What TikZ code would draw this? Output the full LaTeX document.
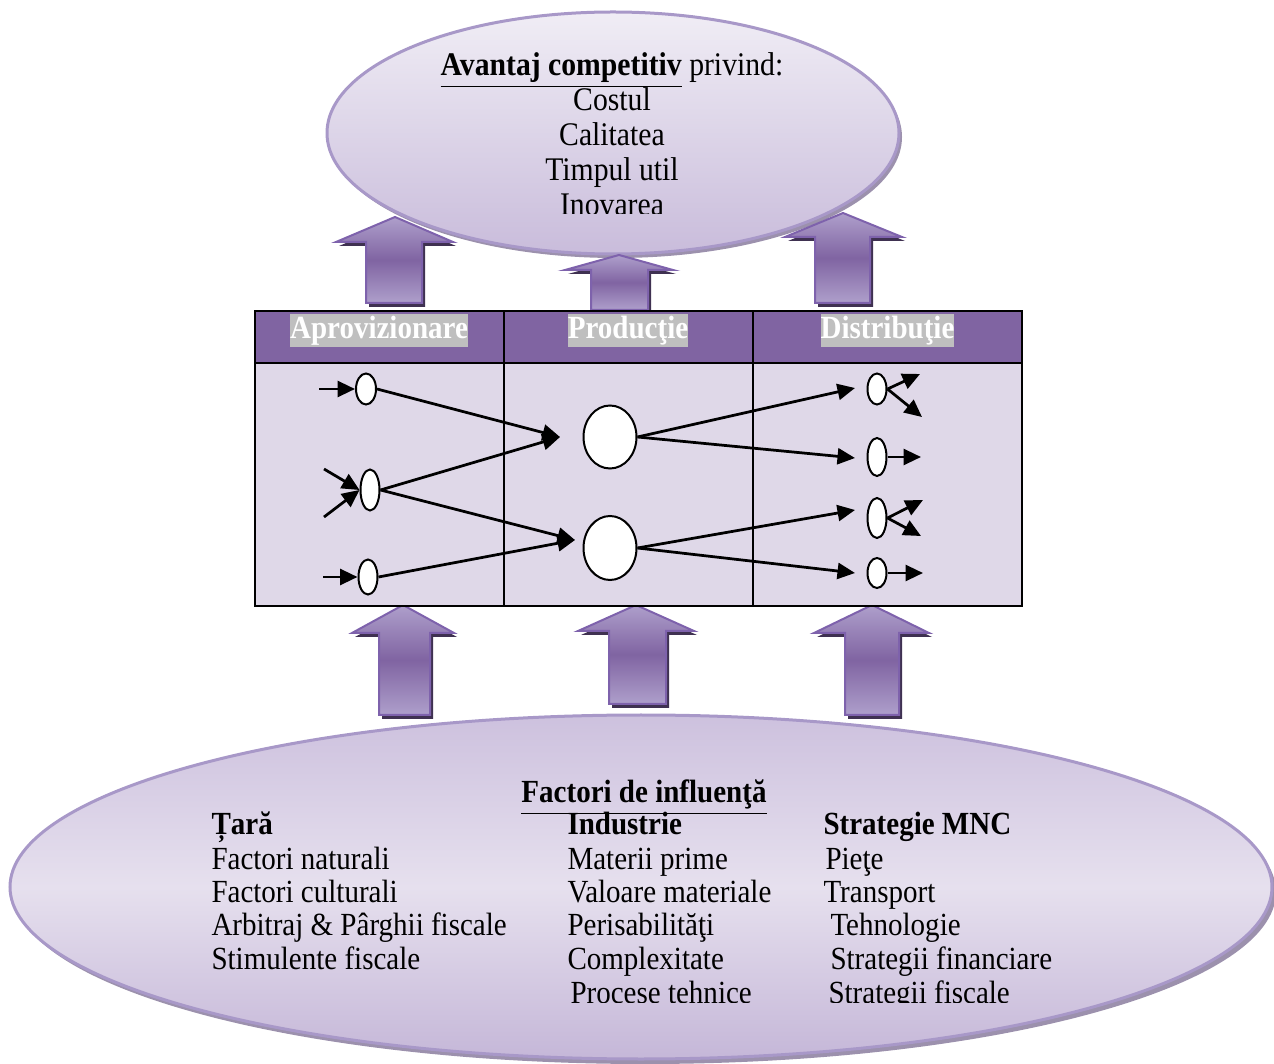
\documentclass[tikz,border=0pt]{standalone}
\usepackage{fontspec}
\setmainfont{Liberation Serif}[FakeStretch=0.9]
\usetikzlibrary{arrows.meta,shapes.geometric}
\definecolor{hdr}{HTML}{8064A2}
\definecolor{tbody}{HTML}{DFD8E8}
\definecolor{hl}{HTML}{BFBFBF}
\definecolor{arrline}{HTML}{7E62AC}
\definecolor{arrdark}{HTML}{8064A2}
\definecolor{arrlight}{HTML}{AE9FCB}
\definecolor{arrshadow}{HTML}{3F3151}
\definecolor{ellborder}{HTML}{A898C8}
\definecolor{elltop}{HTML}{F0EDF5}
\definecolor{ellbot}{HTML}{C9BCDB}
\definecolor{ellshadow}{HTML}{9C91AD}
\definecolor{bigtop}{HTML}{CDC1DE}
\definecolor{bigmid}{HTML}{E6E0EE}
\definecolor{bigbot}{HTML}{C5B7D8}
\newcommand\fatup[8]{%
  \fill[arrshadow,shift={(3,4)}] (#6,#8) -- (#6,#5) -- (#3,#5) -- (#1,#2) -- (#4,#5) -- (#7,#5) -- (#7,#8) -- cycle;
  \shade[top color=arrlight,bottom color=arrlight,middle color=arrdark,draw=arrline,line width=0.8pt]
    (#6,#8) -- (#6,#5) -- (#3,#5) -- (#1,#2) -- (#4,#5) -- (#7,#5) -- (#7,#8) -- cycle;}
\tikzset{
  txt/.style={inner sep=0pt,font=\fontsize{12.9}{13.4}\selectfont},
  toptxt/.style={inner sep=0pt,font=\fontsize{13.2}{14}\selectfont},
  hlbox/.style={fill=hl,text=white,inner xsep=0pt,inner ysep=0pt,minimum height=13.2pt,
    font=\fontsize{12.9}{13.4}\selectfont\bfseries},
  sm/.style={ellipse,draw,fill=white,line width=0.8pt,inner sep=0pt},
  arr/.style={line width=1.1pt,-{Triangle[length=7pt,width=6.4pt]}}
}
\begin{document}
\begin{tikzpicture}[x=0.4pt,y=-0.4pt]
\useasboundingbox (0,0) rectangle (1274,1064);
% top ellipse
\fill[ellshadow] (616,137) ellipse [x radius=286,y radius=121];
\shade[top color=elltop,bottom color=ellbot,draw=ellborder,line width=1.2pt] (613,133) ellipse [x radius=286,y radius=121];
\node[toptxt,anchor=base] (t0) at (612,76) {\textbf{\underline{Avantaj competitiv}} privind:};
\node[toptxt,anchor=base] (t1) at (612,111) {Costul};
\node[toptxt,anchor=base] (t2) at (612,146) {Calitatea};
\node[toptxt,anchor=base] (t3) at (612,181) {Timpul util};
\begin{scope}
\clip (0,0) rectangle (1274,214);
\node[toptxt,anchor=base] (t4) at (612,216) {Inovarea};
\end{scope}
% top arrows
\fatup{395}{217}{336}{453}{242}{366}{422}{303}
\fatup{619}{255}{565}{673}{270}{591}{648}{310}
\fatup{843}{213}{785}{902}{237}{815}{870}{303}
% bottom ellipse
\fill[ellshadow] (645,892) ellipse [x radius=631,y radius=172];
\shade[top color=bigtop,bottom color=bigbot,middle color=bigmid,draw=ellborder,line width=1.2pt] (641,887) ellipse [x radius=631,y radius=172];
% bottom arrows
\fatup{403}{605}{352}{454}{633}{379}{430}{715}
\fatup{636}{605}{578}{694}{631}{609}{666}{704}
\fatup{872}{605}{814}{929}{633}{845}{899}{715}
% table
\fill[hdr] (255,311) rectangle (1022,363);
\fill[tbody] (255,363) rectangle (1022,606);
\draw[line width=0.8pt] (504,311) -- (504,606) (753,311) -- (753,606);
\draw[line width=1pt] (255,363) -- (1022,363);
\draw[line width=1pt] (255,311) rectangle (1022,606);
\node[hlbox] (h1) at (379,331) {Aprovizionare};
\node[hlbox] (h2) at (628,331) {Producţie};
\node[hlbox] (h3) at (887.5,331) {Distribuţie};
% network nodes
\node[sm,minimum width=8pt,minimum height=12.4pt] (A1) at (366,389) {};
\node[sm,minimum width=7.6pt,minimum height=16.4pt] (A2) at (370,490) {};
\node[sm,minimum width=7.6pt,minimum height=14pt] (A3) at (368,577) {};
\node[sm,minimum width=21.2pt,minimum height=25.2pt] (P1) at (610,437) {};
\node[sm,minimum width=21.2pt,minimum height=25.6pt] (P2) at (610,548) {};
\node[sm,minimum width=7.6pt,minimum height=12.4pt] (D1) at (877,389) {};
\node[sm,minimum width=7.6pt,minimum height=15.2pt] (D2) at (877,457) {};
\node[sm,minimum width=7.6pt,minimum height=16pt] (D3) at (877,518) {};
\node[sm,minimum width=7.6pt,minimum height=12pt] (D4) at (877,573) {};
% free ends
\coordinate (i1) at (319,389);
\coordinate (i2a) at (324,469);
\coordinate (i2b) at (324,517);
\coordinate (i3) at (323,577);
\coordinate (P1in) at (560,437);
\coordinate (P2in) at (575,540);
\coordinate (D1in) at (855,388);
\coordinate (D2in) at (855,458);
\coordinate (D3in) at (855,510);
\coordinate (D4in) at (855,573);
\coordinate (o1a) at (920,374);
\coordinate (o1b) at (922,417);
\coordinate (o2) at (921,457);
\coordinate (o3a) at (923,500);
\coordinate (o3b) at (921,536);
\coordinate (o4) at (923,573);
% connectors
\draw[arr] (i1) -- (A1.west);
\draw[arr] (i2a) -- (A2.west);
\draw[arr] (i2b) -- (A2.west);
\draw[arr] (i3) -- (A3.west);
\draw[arr] (A1.east) -- (P1in);
\draw[arr] (A2.east) -- (P1in);
\draw[arr] (A2.east) -- (P2in);
\draw[arr] (A3.east) -- (P2in);
\draw[arr] (P1.east) -- (D1in);
\draw[arr] (P1.east) -- (D2in);
\draw[arr] (P2.east) -- (D3in);
\draw[arr] (P2.east) -- (D4in);
\draw[arr] (D1.east) -- (o1a);
\draw[arr] (D1.east) -- (o1b);
\draw[arr] (D2.east) -- (o2);
\draw[arr] (D3.east) -- (o3a);
\draw[arr] (D3.east) -- (o3b);
\draw[arr] (D4.east) -- (o4);
% bottom texts
\node[txt,anchor=base] (f0) at (644,803) {\textbf{\underline{Factori de influenţă}}};
\node[txt,anchor=base west] (c10) at (211,835) {\textbf{Țară}};
\node[txt,anchor=base west] (c11) at (211,869) {Factori naturali};
\node[txt,anchor=base west] (c12) at (211,902) {Factori culturali};
\node[txt,anchor=base west] (c13) at (211,935) {Arbitraj \& Pârghii fiscale};
\node[txt,anchor=base west] (c14) at (211,969) {Stimulente fiscale};
\node[txt,anchor=base west] (c20) at (567,835) {\textbf{Industrie}};
\node[txt,anchor=base west] (c21) at (567,869) {Materii prime};
\node[txt,anchor=base west] (c22) at (567,902) {Valoare materiale};
\node[txt,anchor=base west] (c23) at (567,935) {Perisabilităţi};
\node[txt,anchor=base west] (c24) at (567,969) {Complexitate};
\node[txt,anchor=base west] (c30) at (823,835) {\textbf{Strategie MNC}};
\node[txt,anchor=base west] (c31) at (825,869) {Pieţe};
\node[txt,anchor=base west] (c32) at (823,902) {Transport};
\node[txt,anchor=base west] (c33) at (830,935) {Tehnologie};
\node[txt,anchor=base west] (c34) at (830,969) {Strategii financiare};
\begin{scope}
\clip (0,0) rectangle (1274,1002);
\node[txt,anchor=base west] (c25) at (570,1003) {Procese tehnice};
\node[txt,anchor=base west] (c35) at (828,1003) {Strategii fiscale};
\end{scope}
\end{tikzpicture}
\end{document}
